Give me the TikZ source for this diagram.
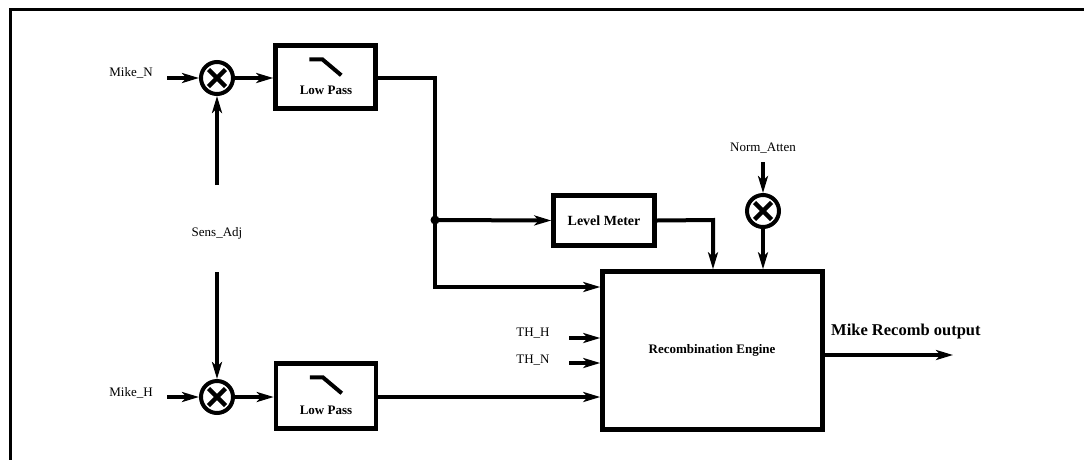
\documentclass[tikz,border=0pt]{standalone}
\usepackage{fontspec}
\setmainfont{Liberation Serif}
\usetikzlibrary{arrows.meta,calc}
\tikzset{
  wire/.style={line width=4pt,-{Stealth[length=17pt,width=10pt,inset=4.5pt]}},
  blockbox/.style={draw,line width=4.5pt,rectangle,inner sep=0pt},
  mult/.style={draw,circle,line width=4pt,minimum size=32pt,inner sep=0pt,
    path picture={
      \draw[line width=4.5pt] ([shift={(-8.5pt,-8.5pt)}]path picture bounding box.center) -- ([shift={(8.5pt,8.5pt)}]path picture bounding box.center);
      \draw[line width=4.5pt] ([shift={(-8.5pt,8.5pt)}]path picture bounding box.center) -- ([shift={(8.5pt,-8.5pt)}]path picture bounding box.center);}},
  lbl/.style={font=\fontsize{13}{15}\selectfont,inner sep=0pt},
  blbl/.style={font=\fontsize{13}{15}\selectfont\bfseries,inner sep=0pt},
  filt/.style={line width=4pt}
}
\begin{document}
\begin{tikzpicture}[x=1pt,y=-1pt]
\useasboundingbox (0,0) rectangle (1084,459);
% outer frame (only top and left edges fall inside the page)
\draw[line width=3pt] (10.7,470) -- (10.7,9.7) -- (1095,9.7);

% multipliers
\node[mult] (mulN) at (217,78) {};
\node[mult] (mulH) at (217,397) {};
\node[mult] (mulA) at (763,211) {};

% low-pass boxes
\node[blockbox,minimum width=100pt,minimum height=63pt] (lpN) at (325.5,77) {};
\node[blbl] (lpNt) at (326,90) {Low Pass};
\draw[filt] ($(lpN.north west)+(36,16)$) -- ($(lpN.north west)+(49,16)$) -- ($(lpN.north west)+(68,32)$);
\node[blockbox,minimum width=100pt,minimum height=65pt] (lpH) at (326,396) {};
\node[blbl] (lpHt) at (326,410) {Low Pass};
\draw[filt] ($(lpH.north west)+(36,16)$) -- ($(lpH.north west)+(49,16)$) -- ($(lpH.north west)+(68,32)$);

% level meter
\node[blockbox,minimum width=101pt,minimum height=50pt,font=\fontsize{14}{16}\selectfont\bfseries] (lm) at (604,220.5) {Level Meter};

% recombination engine
\node[blockbox,minimum width=220pt,minimum height=158pt] (re) at (712.5,350.5) {};
\node[blbl] (ret) at (712,350) {Recombination Engine};

% labels
\node[lbl] (mn) at (131,73) {Mike\_N};
\node[lbl] (mh) at (131,393) {Mike\_H};
\node[lbl] (sa) at (217,233) {Sens\_Adj};
\node[lbl] (na) at (763,148) {Norm\_Atten};
\node[lbl] (thh) at (533,333) {TH\_H};
\node[lbl] (thn) at (533,360) {TH\_N};
\node[font=\fontsize{16.5}{19}\selectfont\bfseries,inner sep=0pt,anchor=west] (outl) at (831,332) {Mike Recomb output};

% free ends and bends
\coordinate (inN) at (167,78);
\coordinate (inH) at (167,397);
\coordinate (saTop) at (217,185);
\coordinate (saBot) at (217,272);
\coordinate (naIn) at (763,162);
\coordinate (thhIn) at (569,338);
\coordinate (thnIn) at (569,363);
\coordinate (outEnd) at (953,355);
\coordinate (jn) at (435,220);
\coordinate (jnTop) at (435,78);
\coordinate (jnBot) at (435,287);
\coordinate (lmBend) at (713,220);

% connectors
\draw[wire] (inN) -- (mulN.west);
\draw[wire] (mulN.east) -- (lpN.west |- mulN.east);
\draw[wire] (inH) -- (mulH.west);
\draw[wire] (mulH.east) -- (lpH.west |- mulH.east);
\draw[wire] (saTop) -- (mulN.south);
\draw[wire] (saBot) -- (mulH.north);
\draw[wire,line join=miter] (lpN.east |- jnTop) -- (jnTop) -- (jnBot) -- (re.west |- jnBot);
\fill (jn) circle (4.5pt);
\draw[wire] (jn) -- (lm.west);
\draw[wire,line join=miter] (lm.east) -- (lmBend) -- (lmBend |- re.north);
\draw[wire] (naIn) -- (mulA.north);
\draw[wire] (mulA.south) -- (mulA |- re.north);
\draw[wire] (thhIn) -- (re.west |- thhIn);
\draw[wire] (thnIn) -- (re.west |- thnIn);
\draw[wire] (lpH.east |- mulH.east) -- (re.west |- mulH.east);
\draw[wire] (re.east |- outEnd) -- (outEnd);
\end{tikzpicture}
\end{document}
